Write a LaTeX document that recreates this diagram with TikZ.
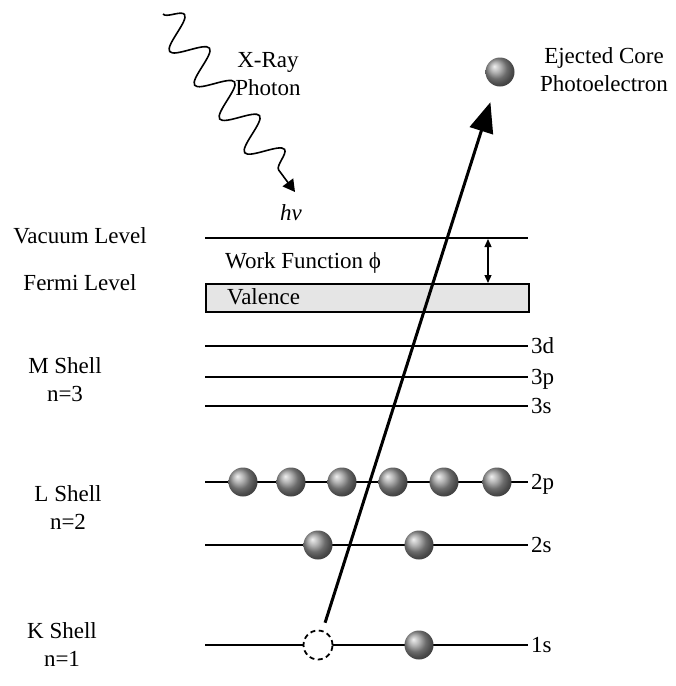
\documentclass[tikz,border=0pt]{standalone}
\usepackage{fontspec}
\setmainfont{Liberation Serif}
\usetikzlibrary{arrows.meta,decorations.pathmorphing}

\begin{document}
\begin{tikzpicture}[x=1pt,y=-1pt,
				lvl/.style={draw=black,line width=2pt},
				txt/.style={font=\fontsize{23}{28}\selectfont,inner sep=0pt},
				shl/.style={txt,align=center},
				lbl/.style={txt,anchor=west,inner xsep=6pt,inner ysep=3pt,text height=15pt,text depth=0pt},
				elec/.style={circle,minimum size=29pt,inner sep=0pt,shading=ball,ball color=gray!80},
				hole/.style={circle,minimum size=29pt,inner sep=0pt,draw=black,fill=white,
					line width=1.8pt,dash pattern=on 5pt off 3.5pt},
				beam/.style={line width=3pt,-{Triangle[length=30pt,width=24pt]}},
				wave/.style={line width=1.6pt,decorate,
					decoration={snake,segment length=42pt,amplitude=17pt,post length=12pt},
					-{Triangle[length=12pt,width=13pt]}}]
				\useasboundingbox (0,0) rectangle (676,686);

				%%%%%%%%%%%%%%%%  photon  %%%%%%%%%%%%%%%%
				\coordinate (phstart) at (163,14);
				\coordinate (phend) at (295,192);
				\draw[wave] (phstart) -- (phend);
				\node[shl] (xray) at (268,74) {X-Ray\\Photon};
				\node[txt] (hv) at (291,213) {\textit{hν}};

				%%%%%%%%%%%%%%%%  vacuum and valence  %%%%%%%%%%%%%%%%
				\coordinate (vacL) at (205,238);
				\coordinate (vacR) at (528,238);
				\draw[lvl] (vacL) -- (vacR);
				\node[draw=black,fill=gray!20,line width=1.8pt,anchor=north west,
					minimum width=323pt,minimum height=28pt,inner sep=0pt] (valence) at (205,283) {};
				\node[txt,anchor=west] (val) at (227,297) {Valence};
				\node[txt,anchor=west] (wf) at (225,263) {Work Function ϕ};
				\coordinate (wftop) at (488,239);
				\coordinate (wfbot) at (488,283);
				\draw[line width=1.3pt,{Triangle[length=8pt,width=7pt]}-{Triangle[length=8pt,width=7pt]}]
					(wftop) -- (wfbot);

				%%%%%%%%%%%%%%%%  core levels  %%%%%%%%%%%%%%%%
				\foreach \name/\y in {3d/346,3p/377,3s/406,2p/482,2s/545,1s/645} {
					\node[lbl] (\name) at (525,\y) {\name};
					\draw[lvl] (205,\y) -- ([xshift=3pt]\name.west);
				}

				% left labels
				\node[txt] (vac) at (80,236) {Vacuum Level};
				\node[txt] (fermi) at (80,283) {Fermi Level};
				\node[shl] (mshell) at (65,380) {M Shell\\n=3};
				\node[shl] (lshell) at (68,508) {L Shell\\n=2};
				\node[shl] (kshell) at (62,645) {K Shell\\n=1};

				%%%%%%%%%%%%%%%%  electrons  %%%%%%%%%%%%%%%%
				\node[hole] (hole) at (318,645) {};
				\node[elec] (ejected) at (500,72) {};
				\node[shl] (ejtext) at (604,70) {Ejected Core\\Photoelectron};
				\draw[beam,shorten <=8pt,shorten >=17pt] (hole) -- (ejected);
				\foreach \x [count=\i] in {243,291,342,393,444,497}
					\node[elec] (p\i) at (\x,482) {};
				\node[elec] (s1) at (318,545) {};
				\node[elec] (s2) at (419,545) {};
				\node[elec] (k1) at (419,645) {};
			\end{tikzpicture}
\end{document}
